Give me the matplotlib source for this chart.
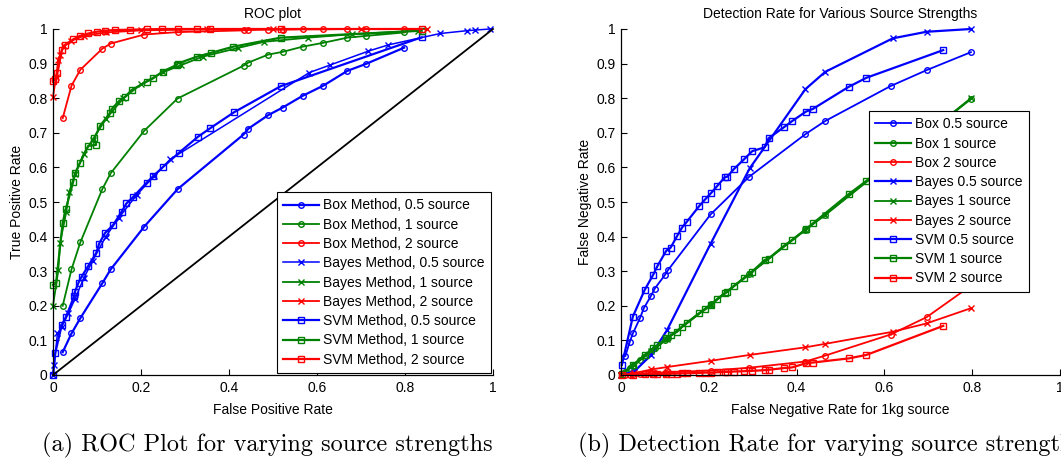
import matplotlib
matplotlib.use("Agg")
import matplotlib.pyplot as plt
from matplotlib.ticker import FormatStrFormatter

# ---------------- ROC plot data ----------------
box_fpr = [0.022, 0.042, 0.062, 0.112, 0.131, 0.2075, 0.283, 0.433, 0.444, 0.489,
           0.522, 0.5675, 0.614, 0.669, 0.711, 0.798]
box_tpr_05 = [0.066, 0.12, 0.164, 0.265, 0.305, 0.429, 0.537, 0.695, 0.712, 0.751,
              0.773, 0.807, 0.836, 0.879, 0.899, 0.946]
box_tpr_1 = [0.2, 0.305, 0.383, 0.537, 0.583, 0.706, 0.799, 0.894, 0.903, 0.926,
             0.934, 0.949, 0.96, 0.975, 0.98, 0.99]
box_tpr_2 = [0.742, 0.836, 0.882, 0.943, 0.958, 0.984, 0.991, 0.996, 0.997, 0.998,
             0.998, 0.999, 0.999, 1.0, 1.0, 1.0]

bayes_fpr_05 = [0, 0.003, 0.01, 0.02, 0.035, 0.05, 0.07, 0.09, 0.12, 0.15, 0.19, 0.23,
                0.266, 0.5825, 0.63, 0.7166, 0.762, 0.88, 0.94, 0.96, 0.993]
bayes_tpr_05 = [0, 0.03, 0.12, 0.14, 0.178, 0.22, 0.28, 0.33, 0.4, 0.455, 0.52, 0.575,
                0.623, 0.874, 0.896, 0.936, 0.954, 0.987, 0.995, 0.997, 1.0]
bayes_fpr_1 = [0, 0.012, 0.016, 0.03, 0.037, 0.05, 0.07, 0.09, 0.12, 0.16, 0.2, 0.25,
               0.29, 0.34, 0.42, 0.48, 0.58, 0.68, 0.83]
bayes_tpr_1 = [0.2, 0.303, 0.382, 0.47, 0.53, 0.58, 0.64, 0.68, 0.74, 0.8, 0.84, 0.875,
               0.895, 0.92, 0.945, 0.963, 0.975, 0.985, 0.995]
bayes_fpr_2 = [0, 0.007, 0.012, 0.016, 0.025, 0.04, 0.07, 0.12, 0.2, 0.35, 0.5, 0.7, 0.85]
bayes_tpr_2 = [0.804, 0.862, 0.91, 0.925, 0.95, 0.965, 0.98, 0.99, 0.996, 0.999, 1.0, 1.0, 1.0]

svm_fpr_05 = [0, 0.005, 0.02, 0.03, 0.048, 0.05, 0.058, 0.065, 0.08, 0.098, 0.105, 0.118,
              0.137, 0.156, 0.167, 0.1825, 0.213, 0.228, 0.249, 0.287, 0.33, 0.357,
              0.411, 0.518, 0.838]
svm_tpr_05 = [0, 0.063, 0.145, 0.169, 0.228, 0.241, 0.267, 0.284, 0.315, 0.352, 0.38, 0.41,
              0.434, 0.472, 0.496, 0.515, 0.556, 0.575, 0.6, 0.643, 0.689, 0.713,
              0.759, 0.835, 0.976]
svm_fpr_1 = [0.0, 0.007, 0.022, 0.029, 0.046, 0.05, 0.061, 0.08, 0.098, 0.094, 0.107,
             0.13, 0.133, 0.151, 0.164, 0.179, 0.213, 0.227, 0.249, 0.281, 0.283, 0.327,
             0.359, 0.41, 0.5175, 0.838]
svm_tpr_1 = [0.26, 0.266, 0.44, 0.479, 0.559, 0.583, 0.612, 0.662, 0.665, 0.684, 0.72,
             0.758, 0.768, 0.793, 0.804, 0.824, 0.848, 0.857, 0.877, 0.896, 0.9, 0.92,
             0.931, 0.949, 0.975, 0.995]
svm_fpr_2 = [0, 0.005, 0.01, 0.02, 0.027, 0.046, 0.061, 0.08, 0.099, 0.118, 0.14, 0.175,
             0.213, 0.247, 0.285, 0.327, 0.357, 0.5175, 0.838]
svm_tpr_2 = [0.85, 0.855, 0.872, 0.939, 0.954, 0.97, 0.98, 0.987, 0.992, 0.995, 0.997,
             0.998, 0.999, 1.0, 1.0, 1.0, 1.0, 1.0, 1.0]

# ---------------- detection rate data ----------------
det_box_x = [0.01, 0.02, 0.027, 0.043, 0.052, 0.068, 0.077, 0.1, 0.107, 0.204, 0.292,
             0.42, 0.465, 0.614, 0.696, 0.797]
det_box_05 = [0.055, 0.096, 0.12, 0.164, 0.193, 0.228, 0.25, 0.289, 0.303, 0.464, 0.573,
              0.696, 0.734, 0.835, 0.881, 0.933]
det_box_1 = [0.01, 0.02, 0.027, 0.043, 0.052, 0.068, 0.077, 0.1, 0.107, 0.204, 0.292,
             0.42, 0.463, 0.614, 0.697, 0.798]
det_box_2 = [0.0, 0.001, 0.002, 0.003, 0.004, 0.005, 0.006, 0.007, 0.008, 0.013, 0.021,
             0.039, 0.056, 0.117, 0.167, 0.258]

det_bayes_x = [0, 0.03, 0.069, 0.105, 0.204, 0.293, 0.42, 0.465, 0.619, 0.696, 0.797]
det_bayes_05 = [0, 0.01, 0.058, 0.13, 0.379, 0.597, 0.826, 0.876, 0.973, 0.992, 1.0]
det_bayes_1 = [0, 0.03, 0.068, 0.105, 0.203, 0.293, 0.42, 0.463, 0.62, 0.697, 0.8]
det_bayes_2 = [0, 0.005, 0.016, 0.023, 0.041, 0.058, 0.08, 0.09, 0.125, 0.149, 0.193]

det_svm_x = [0.002, 0.027, 0.054, 0.073, 0.083, 0.103, 0.113, 0.128, 0.139, 0.15, 0.178,
             0.192, 0.206, 0.219, 0.236, 0.242, 0.257, 0.28, 0.299, 0.327, 0.336, 0.371,
             0.39, 0.421, 0.437, 0.519, 0.559, 0.734]
det_svm_05 = [0.029, 0.169, 0.246, 0.289, 0.315, 0.359, 0.368, 0.402, 0.426, 0.443, 0.488,
              0.508, 0.527, 0.546, 0.571, 0.573, 0.595, 0.623, 0.647, 0.658, 0.684, 0.716,
              0.734, 0.761, 0.769, 0.833, 0.859, 0.939]
det_svm_1 = [0.004, 0.029, 0.058, 0.077, 0.086, 0.106, 0.115, 0.125, 0.14, 0.151, 0.178,
             0.19, 0.202, 0.219, 0.236, 0.24, 0.257, 0.279, 0.299, 0.332, 0.336, 0.373,
             0.39, 0.421, 0.438, 0.523, 0.561, 0.735]
det_svm_2 = [0.0, 0.001, 0.002, 0.002, 0.003, 0.003, 0.004, 0.004, 0.005, 0.005, 0.006,
             0.007, 0.007, 0.008, 0.009, 0.009, 0.01, 0.011, 0.012, 0.014, 0.015, 0.02,
             0.022, 0.034, 0.036, 0.048, 0.058, 0.142]

blue, green, red = "#0000ff", "#008000", "#ff0000"
plt.rcParams['font.family'] = ['Liberation Sans', 'DejaVu Sans']

fig = plt.figure(figsize=(10.61, 4.62), dpi=100)
ax1 = fig.add_axes([53/1061, 87/462, 440/1061, 346/462])
ax2 = fig.add_axes([621/1061, 87/462, 439/1061, 346/462])

mk = dict(markerfacecolor='none', markeredgewidth=1.0)

# ROC curves
ax1.plot(box_fpr, box_tpr_05, '-o', color=blue, lw=1.6, ms=4, label="Box Method, 0.5 source", **mk)
ax1.plot(box_fpr, box_tpr_1, '-o', color=green, lw=1.3, ms=4, label="Box Method, 1 source", **mk)
ax1.plot(box_fpr, box_tpr_2, '-o', color=red, lw=1.3, ms=4, label="Box Method, 2 source", **mk)
ax1.plot(bayes_fpr_05, bayes_tpr_05, '-x', color=blue, lw=1.1, ms=4, label="Bayes Method, 0.5 source", **mk)
ax1.plot(bayes_fpr_1, bayes_tpr_1, '-x', color=green, lw=1.3, ms=4, label="Bayes Method, 1 source", **mk)
ax1.plot(bayes_fpr_2, bayes_tpr_2, '-x', color=red, lw=1.3, ms=4, label="Bayes Method, 2 source", **mk)
ax1.plot(svm_fpr_05, svm_tpr_05, '-s', color=blue, lw=1.6, ms=5, label="SVM Method, 0.5 source", **mk)
ax1.plot(svm_fpr_1, svm_tpr_1, '-s', color=green, lw=1.6, ms=5, label="SVM Method, 1 source", **mk)
ax1.plot(svm_fpr_2, svm_tpr_2, '-s', color=red, lw=1.6, ms=5, label="SVM Method, 2 source", **mk)
ax1.plot([0, 1], [0, 1], color='k', lw=1.3)

# detection rate curves
ax2.plot(det_box_x, det_box_05, '-o', color=blue, lw=1.3, ms=4, label="Box 0.5 source", **mk)
ax2.plot(det_box_x, det_box_1, '-o', color=green, lw=1.6, ms=4, label="Box 1 source", **mk)
ax2.plot(det_box_x, det_box_2, '-o', color=red, lw=1.3, ms=4, label="Box 2 source", **mk)
ax2.plot(det_bayes_x, det_bayes_05, '-x', color=blue, lw=1.6, ms=4, label="Bayes 0.5 source", **mk)
ax2.plot(det_bayes_x, det_bayes_1, '-x', color=green, lw=1.3, ms=4, label="Bayes 1 source", **mk)
ax2.plot(det_bayes_x, det_bayes_2, '-x', color=red, lw=1.3, ms=4, label="Bayes 2 source", **mk)
ax2.plot(det_svm_x, det_svm_05, '-s', color=blue, lw=1.6, ms=5, label="SVM 0.5 source", **mk)
ax2.plot(det_svm_x, det_svm_1, '-s', color=green, lw=1.6, ms=5, label="SVM 1 source", **mk)
ax2.plot(det_svm_x, det_svm_2, '-s', color=red, lw=1.6, ms=5, label="SVM 2 source", **mk)

for ax in (ax1, ax2):
    ax.set_xlim(0, 1)
    ax.set_ylim(0, 1)
    ax.set_xticks([0, 0.2, 0.4, 0.6, 0.8, 1])
    ax.set_yticks([0, 0.1, 0.2, 0.3, 0.4, 0.5, 0.6, 0.7, 0.8, 0.9, 1])
    ax.xaxis.set_major_formatter(FormatStrFormatter('%g'))
    ax.yaxis.set_major_formatter(FormatStrFormatter('%g'))
    ax.tick_params(direction='in', length=4, width=0.8, labelsize=10, colors='k', pad=4)
    ax.spines['top'].set_visible(False)
    ax.spines['right'].set_visible(False)
    for s in ('left', 'bottom'):
        ax.spines[s].set_linewidth(0.9)
    for line in ax.get_lines():
        line.set_clip_on(False)

ax1.set_title("ROC plot", fontsize=10, pad=8)
ax1.set_xlabel("False Positive Rate", fontsize=10, labelpad=6)
ax1.set_ylabel("True Positive Rate", fontsize=10, labelpad=3)
ax2.set_title("Detection Rate for Various Source Strengths", fontsize=10, pad=8)
ax2.set_xlabel("False Negative Rate for 1kg source", fontsize=10, labelpad=6)
ax2.set_ylabel("False Negative Rate", fontsize=10, labelpad=3)

leg_kw = dict(fontsize=10, frameon=True, fancybox=False, edgecolor='k', framealpha=1,
              handlelength=2.6, handletextpad=0.3, labelspacing=0.38, borderpad=0.45,
              borderaxespad=0)
l1 = ax1.legend(loc='lower right', bbox_to_anchor=(0.995, 0.006), **leg_kw)
l2 = ax2.legend(loc='upper right', bbox_to_anchor=(0.929, 0.763), **leg_kw)
for leg in (l1, l2):
    leg.get_frame().set_linewidth(0.8)

fig.text(267/1061, 1 - 445/462, "(a) ROC Plot for varying source strengths",
         family='cmr10', fontsize=17.5, ha='center', va='center')
fig.text(578/1061, 1 - 445/462, "(b) Detection Rate for varying source strengths",
         family='cmr10', fontsize=17.5, ha='left', va='center')

fig.savefig("out.png", dpi=100)
